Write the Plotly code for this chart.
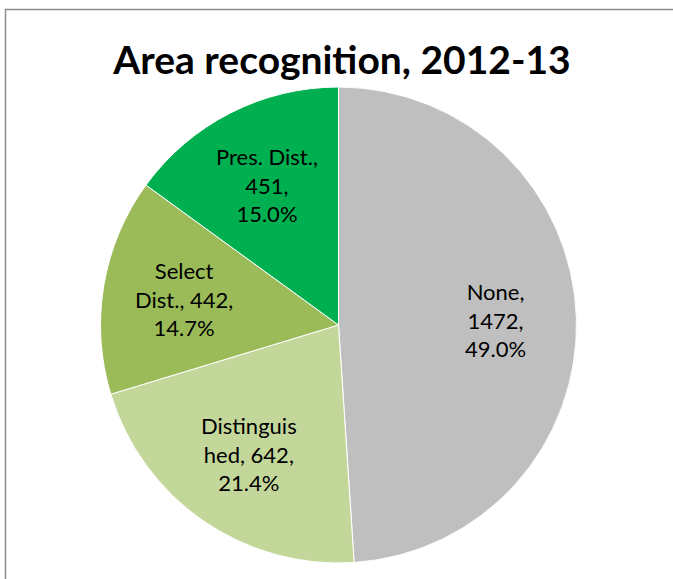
import math
import plotly.graph_objects as go

categories = ["None", "Distinguished", "Select Dist.", "Pres. Dist."]
values = [1472, 642, 442, 451]
label_text = ["None,<br>1472,<br>49.0%", "Distinguis<br>hed, 642,<br>21.4%",
              "Select<br>Dist., 442,<br>14.7%", "Pres. Dist.,<br>451,<br>15.0%"]
colors = ["#BFBFBF", "#C4D79B", "#9BBB59", "#00B050"]

W, H = 673, 579
FONT = "Lato, Open Sans, sans-serif"
dom_x = [100 / W, 577 / W]
dom_y = [16 / H, 492 / H]

fig = go.Figure(go.Pie(
    labels=categories, values=values, sort=False, direction="clockwise", rotation=0,
    textinfo="none",
    marker=dict(colors=colors, line=dict(color="white", width=1)),
    domain=dict(x=dom_x, y=dom_y),
    showlegend=False, hoverinfo="label+value+percent",
))

# label positions derived from the data (mid-angle of each slice)
cx_px = (dom_x[0] + dom_x[1]) / 2 * W
cy_px = (dom_y[0] + dom_y[1]) / 2 * H
r_px = min((dom_x[1] - dom_x[0]) * W, (dom_y[1] - dom_y[0]) * H) / 2
total = sum(values)
annotations = []
cum = 0
for v, t in zip(values, label_text):
    mid = (cum + v / 2) / total * 2 * math.pi
    cum += v
    rr = 0.66 * r_px
    x = cx_px + rr * math.sin(mid)
    y = cy_px + rr * math.cos(mid)
    annotations.append(dict(x=x / W, y=y / H, xref="paper", yref="paper", text=t,
                            xanchor="center", yanchor="middle",
                            showarrow=False, align="center",
                            font=dict(family=FONT, size=22, color="black")))

fig.update_layout(
    width=W, height=H, margin=dict(l=0, r=0, t=0, b=0),
    paper_bgcolor="white", plot_bgcolor="white",
    title=dict(text="<b>Area recognition, 2012-13</b>", x=342 / W, xanchor="center",
               y=1 - 60 / H, yanchor="middle",
               font=dict(family=FONT, size=39, color="black")),
    annotations=annotations,
    shapes=[dict(type="rect", xref="paper", yref="paper", x0=5.5 / W, x1=1.1,
                 y0=-0.1, y1=1 - 9.5 / H, line=dict(color="#8C8C8C", width=1.5))],
)
fig.write_html("out.html", config={"displayModeBar": False},
               post_script="document.body.style.margin='0';")
